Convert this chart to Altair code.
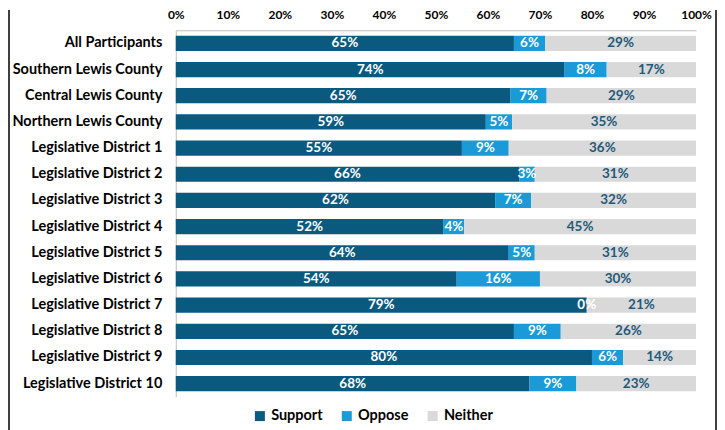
import altair as alt
import pandas as pd

categories = [
    "All Participants", "Southern Lewis County", "Central Lewis County",
    "Northern Lewis County", "Legislative District 1", "Legislative District 2",
    "Legislative District 3", "Legislative District 4", "Legislative District 5",
    "Legislative District 6", "Legislative District 7", "Legislative District 8",
    "Legislative District 9", "Legislative District 10",
]
support = [65, 74, 65, 59, 55, 66, 62, 52, 64, 54, 79, 65, 80, 68]
oppose = [6, 8, 7, 5, 9, 3, 7, 4, 5, 16, 0, 9, 6, 9]
neither = [29, 17, 29, 35, 36, 31, 32, 45, 31, 30, 21, 26, 14, 23]
responses = ["Support", "Oppose", "Neither"]
colors = ["#0a5a7f", "#1a9ad6", "#d9d9d9"]
label_colors = ["#ffffff", "#ffffff", "#1f5a7a"]

rows = []
for i, c in enumerate(categories):
    for j, (r, vals) in enumerate(zip(responses, [support, oppose, neither])):
        rows.append({"category": c, "response": r, "value": vals[i], "order": j,
                     "label": f"{vals[i]}%", "lcolor": label_colors[j]})
df = pd.DataFrame(rows)

FONT = "Lato"

base = alt.Chart(df).transform_stack(
    stack="value", groupby=["category"], as_=["v0", "v1"],
    offset="normalize", sort=[alt.SortField("order")]
).transform_calculate(mid="(datum.v0 + datum.v1) / 2")

y_enc = alt.Y("category:N", sort=categories, title=None,
              scale=alt.Scale(paddingInner=0.42, paddingOuter=0.21),
              axis=alt.Axis(labelFont=FONT, labelFontWeight="bold", labelFontSize=14.5,
                            labelColor="#000000", ticks=False, domainColor="#bfbfbf",
                            labelPadding=14, minExtent=168, maxExtent=168, labelLimit=220))

bars = base.mark_bar().encode(
    x=alt.X("v0:Q", title=None,
            scale=alt.Scale(domain=[0, 1], nice=False),
            axis=alt.Axis(orient="top", format=".0%", values=[i / 10 for i in range(11)],
                          labelFont=FONT, labelFontWeight="bold", labelFontSize=12,
                          labelColor="#000000", ticks=False, grid=False,
                          domainColor="#bfbfbf", labelPadding=9,
                          minExtent=20, maxExtent=20, labelFlush=False)),
    x2="v1:Q",
    y=y_enc,
    color=alt.Color("response:N", sort=responses,
                    scale=alt.Scale(domain=responses, range=colors),
                    legend=alt.Legend(orient="none", legendX=77, legendY=379,
                                      direction="horizontal", title=None,
                                      symbolType="square", symbolSize=100,
                                      symbolStrokeWidth=0,
                                      labelFont=FONT, labelFontWeight="bold",
                                      labelFontSize=14.5, labelColor="#000000",
                                      columnPadding=16)),
    order=alt.Order("order:Q"),
)

text = base.mark_text(font=FONT, fontWeight="bold", fontSize=13.5, baseline="middle").encode(
    x="mid:Q",
    y=alt.Y("category:N", sort=categories),
    text="label:N",
    color=alt.Color("lcolor:N", scale=None),
)

frame_left = alt.Chart(df).mark_rule(color="#404040", strokeWidth=1.5).encode(
    x=alt.value(-167), y=alt.value(-20), y2=alt.value(402))
frame_right = alt.Chart(df).mark_rule(color="#404040", strokeWidth=1.5).encode(
    x=alt.value(541), y=alt.value(-20), y2=alt.value(402))

chart = (bars + text + frame_left + frame_right).properties(
    width=521, height=367,
    padding={"left": 0, "top": 0, "right": 0, "bottom": 0},
).configure_view(stroke=None)

chart.save("out.html", embed_options={"renderer": "svg", "actions": False})
